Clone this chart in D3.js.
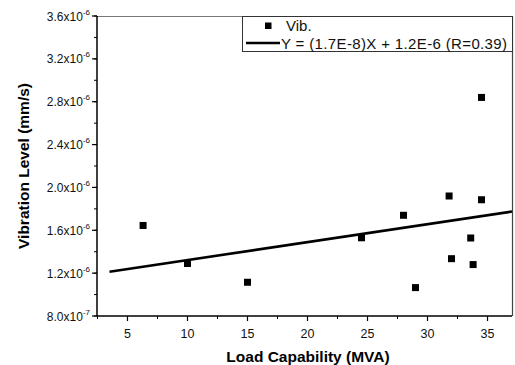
<!DOCTYPE html>
<html><head><meta charset="utf-8">
<script src="https://cdn.jsdelivr.net/npm/d3@7"></script>
<style>body{margin:0;background:#fff}svg{display:block}text{font-family:"Liberation Sans",Arial,sans-serif}</style>
</head><body>
<svg id="c" width="515" height="365"></svg>
<script>
const loadMVA = [6.3, 10, 15, 24.5, 28, 29, 31.8, 32, 33.6, 33.8, 34.5, 34.5];
const vibLevel = [1.645e-6, 1.29e-6, 1.115e-6, 1.53e-6, 1.74e-6, 1.065e-6, 1.92e-6, 1.335e-6, 1.528e-6, 1.28e-6, 1.885e-6, 2.84e-6];
const fitX = [3.5, 37.04];
const fitY = [1.213e-6, 1.775e-6];
const xTicks = [5, 10, 15, 20, 25, 30, 35];
const yTickMant = ["8.0", "1.2", "1.6", "2.0", "2.4", "2.8", "3.2", "3.6"];
const yTickExp = ["-7", "-6", "-6", "-6", "-6", "-6", "-6", "-6"];
const yTicks = [0.8e-6, 1.2e-6, 1.6e-6, 2.0e-6, 2.4e-6, 2.8e-6, 3.2e-6, 3.6e-6];
const legendLabels = ["Vib.", "Y = (1.7E-8)X + 1.2E-6 (R=0.39)"];

const svg = d3.select("#c");
const L = 97, R = 512, T = 16, B = 316;
const x = d3.scaleLinear().domain([2.46, 37.04]).range([L, R]);
const y = d3.scaleLinear().domain([0.8e-6, 3.6e-6]).range([B, T]);

// frame
svg.append("line").attr("x1", L).attr("x2", R).attr("y1", T + 0.5).attr("y2", T + 0.5).attr("stroke", "#777").attr("stroke-width", 1.2);
svg.append("line").attr("x1", R + 0.5).attr("x2", R + 0.5).attr("y1", T).attr("y2", B).attr("stroke", "#444").attr("stroke-width", 1.2);

// x axis
const xMinor = d3.range(2.5, 37.01, 2.5);
const gx = svg.append("g").attr("transform", `translate(0,${B})`);
gx.append("line").attr("x1", L).attr("x2", R).attr("stroke", "#000").attr("stroke-width", 1.5);
gx.selectAll(".mn").data(xMinor).join("line").attr("x1", d => x(d)).attr("x2", d => x(d)).attr("y1", 0).attr("y2", 3).attr("stroke", "#000");
gx.selectAll(".mj").data(xTicks).join("line").attr("x1", d => x(d)).attr("x2", d => x(d)).attr("y1", 0).attr("y2", 5).attr("stroke", "#000").attr("stroke-width", 1.2);
gx.selectAll("text").data(xTicks).join("text").attr("x", d => x(d)).attr("y", 22).attr("text-anchor", "middle").attr("font-size", 12.5).attr("fill", "#111").text(d => d);

// y axis
const yMinor = d3.range(0.8e-6, 3.61e-6, 0.2e-6);
const gy = svg.append("g").attr("transform", `translate(${L},0)`);
gy.append("line").attr("y1", T).attr("y2", B).attr("stroke", "#000").attr("stroke-width", 1.5);
gy.selectAll(".mn").data(yMinor).join("line").attr("y1", d => y(d)).attr("y2", d => y(d)).attr("x1", 0).attr("x2", -3).attr("stroke", "#000");
gy.selectAll(".mj").data(yTicks).join("line").attr("y1", d => y(d)).attr("y2", d => y(d)).attr("x1", 0).attr("x2", -5).attr("stroke", "#000").attr("stroke-width", 1.2);
const yl = gy.selectAll("text").data(yTicks).join("text").attr("x", -7).attr("y", d => y(d) + 4.5).attr("text-anchor", "end").attr("font-size", 12).attr("fill", "#111");
yl.append("tspan").text((d, i) => yTickMant[i] + "x10");
yl.append("tspan").attr("font-size", 8).attr("dy", -6).text((d, i) => yTickExp[i]);

// titles
svg.append("text").attr("x", 308).attr("y", 362).attr("text-anchor", "middle").attr("font-size", 15.5).attr("font-weight", "bold").text("Load Capability (MVA)");
svg.append("text").attr("transform", "translate(29,166) rotate(-90)").attr("text-anchor", "middle").attr("font-size", 15.5).attr("font-weight", "bold").text("Vibration Level (mm/s)");

// fit line
svg.append("path").datum(fitX.map((d, i) => [d, fitY[i]]))
  .attr("d", d3.line().x(d => x(d[0])).y(d => y(d[1])))
  .attr("stroke", "#000").attr("stroke-width", 2.6).attr("fill", "none");

// points
const s = 7;
svg.selectAll(".pt").data(loadMVA).join("rect").attr("class", "pt")
  .attr("x", d => x(d) - s / 2).attr("y", (d, i) => y(vibLevel[i]) - s / 2)
  .attr("width", s).attr("height", s).attr("fill", "#000");

// legend
const lg = svg.append("g");
lg.append("rect").attr("x", 242.5).attr("y", 16.5).attr("width", 270).attr("height", 35).attr("fill", "#fff").attr("stroke", "#333").attr("stroke-width", 1);
lg.append("rect").attr("x", 265).attr("y", 22.5).attr("width", 6.5).attr("height", 6.5).attr("fill", "#000");
lg.append("text").attr("x", 286).attr("y", 31).attr("font-size", 15).attr("fill", "#111").text(legendLabels[0]);
lg.append("line").attr("x1", 246).attr("x2", 280).attr("y1", 43).attr("y2", 43).attr("stroke", "#000").attr("stroke-width", 2.4);
lg.append("text").attr("x", 281).attr("y", 48.5).attr("font-size", 15).attr("textLength", 226).attr("fill", "#111").text(legendLabels[1]);
</script>
</body></html>
